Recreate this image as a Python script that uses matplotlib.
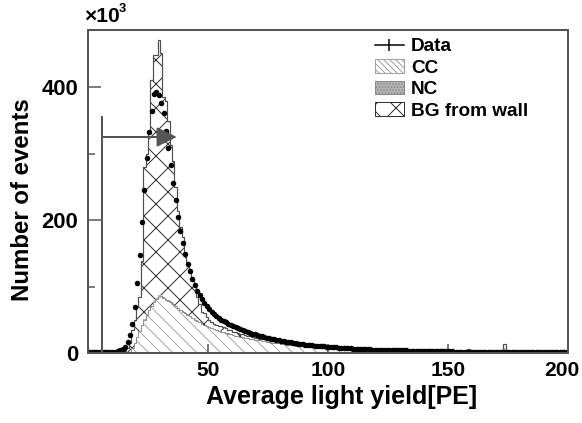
import numpy as np
import matplotlib
matplotlib.use("Agg")
import matplotlib.pyplot as plt
import matplotlib.transforms as mtransforms
from matplotlib.lines import Line2D
from matplotlib.patches import Patch

# ==================== data (events, x10^3 per 1 PE bin) ====================

PE_MIN, PE_MAX = 0, 200
bin_edges = np.arange(PE_MIN, PE_MAX + 1, 1)

data_k = [
    0.8, 0.9, 1.0, 1.0, 1.0, 1.1, 1.1, 1.2, 1.2, 1.3,
    1.5, 2.0, 2.8, 3.8, 5.5, 9, 16, 27, 44, 69,
    105, 148, 197, 246, 294, 332, 364, 389, 392, 388,
    376, 361, 334, 309, 283, 256, 230, 205, 184, 165,
    149, 134, 123, 112, 102, 94, 87, 81, 75, 70,
    66, 62, 58, 55, 52, 50, 48, 46, 44, 42,
    40, 38.5, 37, 35.5, 34, 33, 31.5, 30.3, 29.1, 28,
    27, 26, 25, 24, 23, 22.1, 21.2, 20.4, 19.6, 18.9,
    18.2, 17.6, 17.0, 16.4, 15.8, 15.2, 14.6, 14.1, 13.6, 13.1,
    12.7, 12.3, 11.9, 11.5, 11.1, 10.8, 10.5, 10.2, 9.9, 9.6,
    9.3, 9.0, 8.7, 8.4, 8.1, 7.8, 7.5, 7.2, 7.0, 6.8,
    6.6, 6.4, 6.2, 6.0, 5.8, 5.6, 5.5, 5.4, 5.2, 5.1,
    5.0, 4.9, 4.8, 4.7, 4.6, 4.5, 4.4, 4.3, 4.2, 4.1,
    4.0, 3.9, 3.8, 3.7, 3.6, 3.5, 3.4, 3.3, 3.2, 3.1,
    3.0, 2.95, 2.9, 2.8, 2.75, 2.7, 2.6, 2.55, 2.5, 2.4,
    2.35, 2.3, 2.25, 2.2, 2.15, 2.1, 2.05, 2.0, 1.95, 1.9,
    1.85, 1.8, 1.78, 1.75, 1.72, 1.7, 1.67, 1.64, 1.6, 1.57,
    1.54, 1.5, 1.48, 1.45, 1.42, 1.4, 1.38, 1.35, 1.32, 1.3,
    1.28, 1.26, 1.24, 1.22, 1.2, 1.18, 1.16, 1.14, 1.12, 1.1,
    1.08, 1.06, 1.04, 1.02, 1.0, 0.98, 0.96, 0.94, 0.92, 0.9,
]

# MC: CC (bottom), NC, BG from wall (top), stacked
cc_k = [
    0, 0, 0, 0, 0, 0, 0, 0, 0, 0,
    0, 0, 0, 0, 0, 0.3, 0.8, 2, 7, 15,
    24, 33, 42, 50, 57, 64, 70, 76, 81, 85,
    86, 83, 80, 78, 76, 73, 70, 67, 64, 62,
    60, 57, 55, 52, 50, 48, 46, 44, 42, 40,
    38.5, 37, 35.5, 34, 33, 32, 31, 30, 29, 28,
    27, 26.2, 25.4, 24.6, 23.8, 23, 22.3, 21.6, 20.9, 20.2,
    19.5, 19.0, 18.6, 18.3, 17.0, 16.9, 15.6, 15.5, 14.5, 14.3,
    13.6, 13.3, 12.6, 12.4, 11.8, 11.5, 10.9, 10.7, 10.1, 9.9,
    9.5, 9.3, 8.9, 8.7, 8.3, 8.1, 7.9, 7.6, 7.5, 7.2,
    7.0, 6.8, 6.5, 6.4, 6.1, 5.9, 5.6, 5.4, 5.3, 5.1,
    5.0, 4.8, 4.7, 4.5, 4.4, 4.2, 4.1, 4.1, 3.9, 3.8,
    3.8, 3.7, 3.6, 3.5, 3.5, 3.4, 3.3, 3.2, 3.2, 3.1,
    3.0, 2.9, 2.9, 2.8, 2.7, 2.6, 2.6, 2.5, 2.4, 2.3,
    2.3, 2.2, 2.2, 2.1, 2.1, 2.0, 2.0, 1.9, 1.9, 1.8,
    1.8, 1.7, 1.7, 1.7, 1.6, 1.6, 1.5, 1.5, 5.0, 1.4,
    1.4, 1.4, 1.3, 1.3, 1.3, 1.3, 1.3, 1.2, 1.2, 1.2,
    1.2, 1.1, 1.1, 13.0, 1.1, 1.0, 1.0, 1.0, 1.0, 1.0,
    1.0, 0.9, 0.9, 0.9, 0.9, 0.9, 0.9, 0.8, 0.8, 0.8,
    0.8, 0.8, 0.8, 0.8, 0.7, 0.7, 0.7, 0.7, 0.7, 0.7,
]

nc_k = [
    0, 0, 0, 0, 0, 0, 0, 0, 0, 0,
    0, 0, 0, 0, 0, 0, 0, 0, 0.1, 0.3,
    0.5, 0.7, 0.8, 1.0, 1.1, 1.3, 1.4, 1.5, 1.6, 1.7,
    1.7, 1.7, 1.6, 1.6, 1.5, 1.5, 1.4, 1.4, 1.3, 1.3,
    1.2, 1.2, 1.1, 1.1, 1.0, 1.0, 0.9, 0.9, 0.8, 0.8,
    0.8, 0.7, 0.7, 0.7, 0.6, 0.6, 0.6, 0.5, 0.5, 0.5,
] + [0.0] * 140

bg_k = [
    0, 0, 0, 0, 0, 0, 0, 0, 0, 0,
    0, 0, 0, 0, 0, 2.7, 7.2, 13, 27, 34,
    44, 50, 96, 229, 242, 265, 340, 371, 366, 384,
    363, 301, 297, 269, 236, 214, 179, 146, 125, 111,
    89, 79, 68, 57, 48, 36, 27, 17, 17, 14,
    10.7, 9.3, 7.8, 7.3, 7.4, 7.4, 7.4, 6.5, 5.5, 5.5,
    5.0, 4.8, 4.6, 4.4, 4.2, 4.0, 3.7, 3.4, 3.1, 2.8,
    2.5, 2.4, 2.3, 2.2, 2.1, 2.0, 1.9, 1.9, 1.8, 1.7,
    1.7, 1.6, 1.6, 1.5, 1.5, 1.4, 1.4, 1.3, 1.3, 1.2,
    1.2, 1.1, 1.1, 1.1, 1.0, 1.0, 1.0, 0.9, 0.9, 0.9,
    0.9, 0.8, 0.8, 0.8, 0.8, 0.7, 0.7, 0.7, 0.7, 0.6,
    0.6, 0.6, 0.6, 0.6, 0.5, 0.5, 0.5, 0.5, 0.5, 0.5,
    0.5, 0.5, 0.5, 0.4, 0.4, 0.4, 0.4, 0.4, 0.4, 0.4,
    0.4, 0.4, 0.4, 0.3, 0.3, 0.3, 0.3, 0.3, 0.3, 0.3,
    0.3, 0.3, 0.3, 0.3, 0.3, 0.3, 0.3, 0.3, 0.3, 0.3,
    0.3, 0.3, 0.3, 0.3, 0.3, 0.3, 0.3, 0.3, 0.3, 0.3,
    0.2, 0.2, 0.2, 0.2, 0.2, 0.2, 0.2, 0.2, 0.2, 0.2,
    0.2, 0.2, 0.2, 0.2, 0.2, 0.2, 0.2, 0.2, 0.2, 0.2,
    0.1, 0.1, 0.1, 0.1, 0.1, 0.1, 0.1, 0.1, 0.1, 0.1,
    0.1, 0.1, 0.1, 0.1, 0.1, 0.1, 0.1, 0.1, 0.1, 0.1,
]

# selection cut (PE) and arrow
CUT_PE = 6
CUT_TOP = 356
ARROW_Y = 325
ARROW_END = 37

x_ticks = [50, 100, 150, 200]
y_ticks = [0, 200, 400]
y_minor = [100, 300]

# ==================== style ====================

plt.rcParams["font.family"] = ["Liberation Sans", "DejaVu Sans"]
plt.rcParams["font.weight"] = "bold"
plt.rcParams["hatch.linewidth"] = 1.0

AXIS_GRAY = "#555555"

fig = plt.figure(figsize=(582 / 72, 423 / 72), dpi=72)
ax = fig.add_axes([88 / 582, 70 / 423, 480 / 582, 323 / 423])

cc = np.array(cc_k, dtype=float)
nc = np.array(nc_k, dtype=float)
bg = np.array(bg_k, dtype=float)
cc_nc = cc + nc
total = cc_nc + bg

# stacked MC
ax.stairs(cc, bin_edges, baseline=0, fill=True, facecolor="white",
          edgecolor="#a8a8a8", hatch="\\\\", linewidth=0)
ax.stairs(cc_nc, bin_edges, baseline=cc, fill=True, facecolor="#b5b5b5",
          edgecolor="#888888", hatch="....", linewidth=0)
ax.stairs(total, bin_edges, baseline=cc_nc, fill=True, facecolor="white",
          edgecolor="#303030", hatch="x", linewidth=0)
ax.stairs(cc, bin_edges, color="#777777", linewidth=0.8)
ax.stairs(total, bin_edges, color="#505050", linewidth=1.2)

# data points
centers = 0.5 * (bin_edges[:-1] + bin_edges[1:])
ax.plot(centers, data_k, "o", color="black", markersize=5.5,
        markeredgewidth=0)

# cut line + arrow
ax.vlines(CUT_PE, 0, CUT_TOP, color=AXIS_GRAY, linewidth=2)
ax.annotate("", xy=(ARROW_END, ARROW_Y), xytext=(CUT_PE, ARROW_Y),
            arrowprops=dict(arrowstyle="-|>,head_length=0.85,head_width=0.42",
                            mutation_scale=20, color=AXIS_GRAY, lw=2,
                            shrinkA=0, shrinkB=0))

# axes
ax.set_xlim(PE_MIN, PE_MAX)
ax.set_ylim(0, 486)
ax.set_xticks(x_ticks)
ax.set_yticks(y_ticks)
ax.set_yticks(y_minor, minor=True)
ax.tick_params(axis="x", which="major", direction="in", length=9,
               width=1.5, color=AXIS_GRAY, labelsize=21, pad=8)
ax.tick_params(axis="y", which="major", direction="in", length=13,
               width=1.5, color=AXIS_GRAY, labelsize=22, pad=10)
ax.tick_params(axis="y", which="minor", direction="in", length=7,
               width=1.5, color=AXIS_GRAY)
for s in ax.spines.values():
    s.set_linewidth(2)
    s.set_color(AXIS_GRAY)

# keep the "200" label inside the picture
last = ax.get_xticklabels()[-1]
last.set_transform(last.get_transform()
                   + mtransforms.ScaledTranslation(-6 / 72, 0, fig.dpi_scale_trans))

ax.set_xlabel("Average light yield[PE]", fontsize=25, fontweight="bold",
              va="center")
ax.xaxis.set_label_coords(0.529, -0.136)
ax.set_ylabel("Number of events", fontsize=24, fontweight="bold",
              va="center")
ax.yaxis.set_label_coords(-0.137, 0.474)

fig.text(84 / 582, 1 - 17 / 423, "×10", fontsize=21, fontweight="bold",
         ha="left", va="center")
fig.text(119 / 582, 1 - 9 / 423, "3", fontsize=13, fontweight="bold",
         ha="left", va="center")

# legend
handles = [
    Line2D([], [], color="black", marker="|", markersize=12,
           markeredgewidth=1.5, linewidth=1.5),
    Patch(facecolor="white", edgecolor="#a0a0a0", hatch="\\\\\\\\"),
    Patch(facecolor="#b5b5b5", edgecolor="#888888", hatch="...."),
    Patch(facecolor="white", edgecolor="#303030", hatch="x"),
]
labels = ["Data", "CC", "NC", "BG from wall"]
ax.legend(handles, labels, loc="upper left",
          bbox_to_anchor=((375 - 88) / 480, (353 - 38) / 323),
          frameon=False, fontsize=19, handlelength=1.5, handleheight=0.7,
          handletextpad=0.4, labelspacing=0.22, borderpad=0,
          borderaxespad=0)

fig.savefig("out.png", dpi=72)
